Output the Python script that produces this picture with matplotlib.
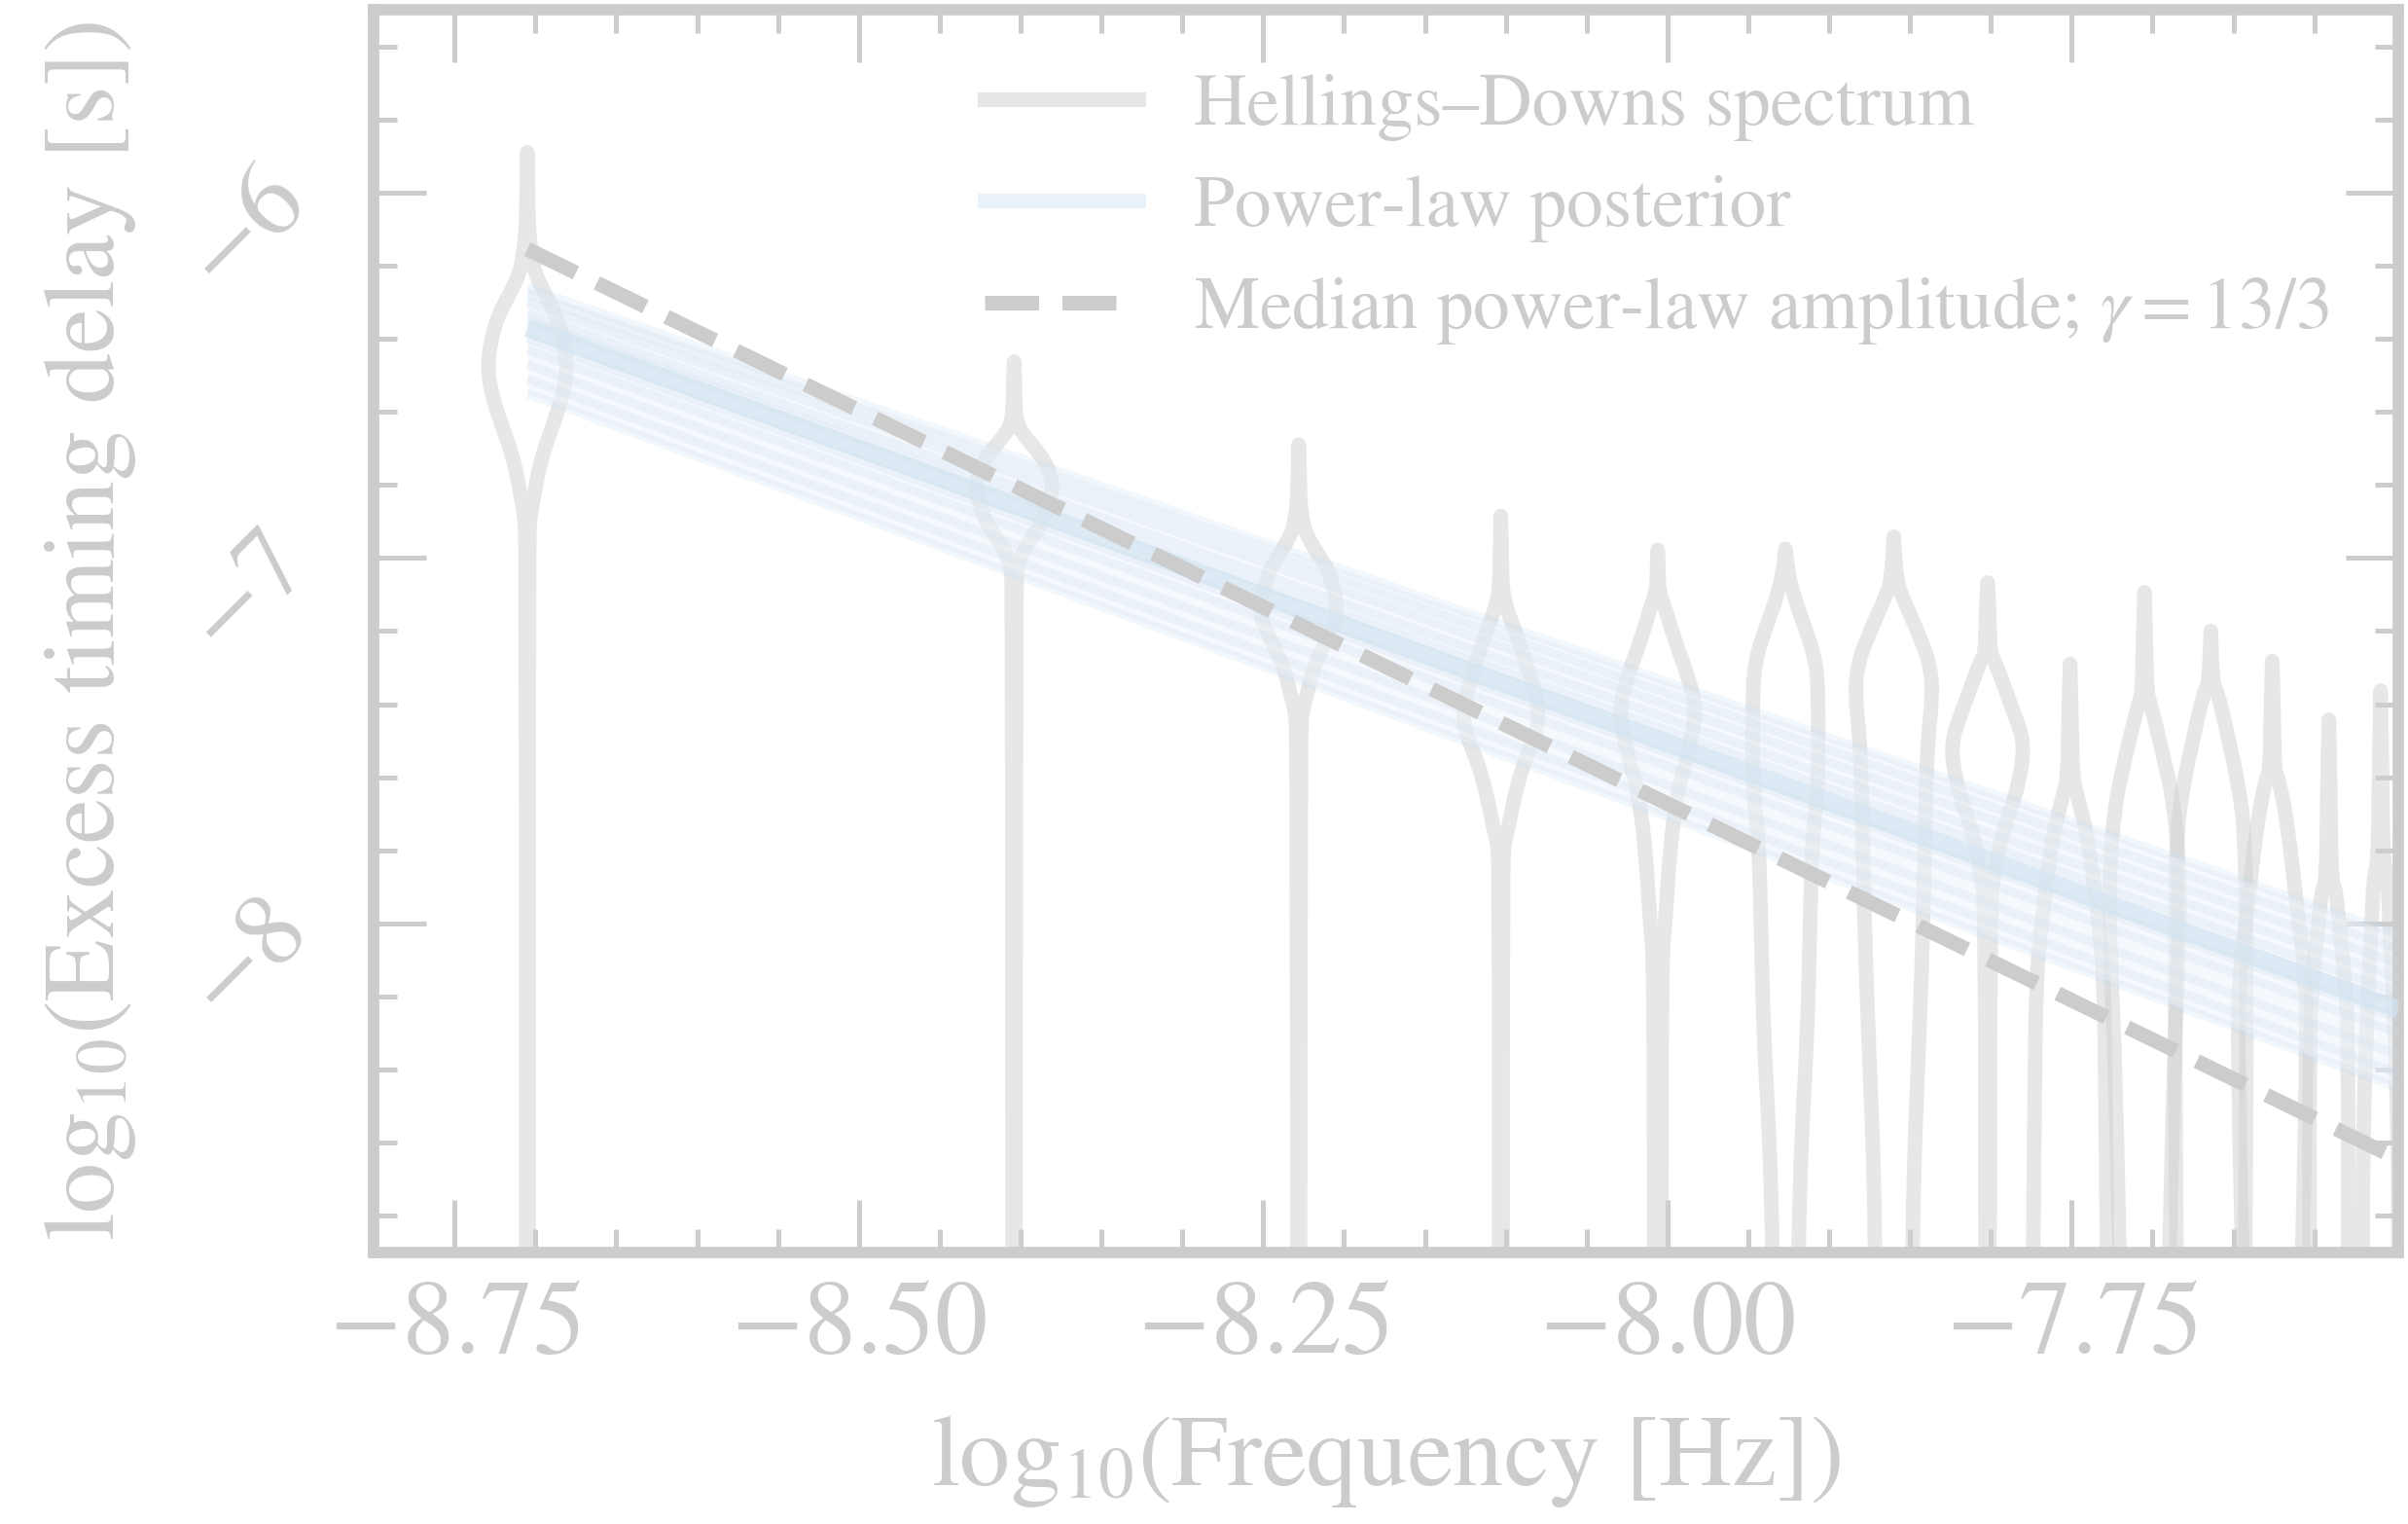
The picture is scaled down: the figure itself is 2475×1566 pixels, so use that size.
import numpy as np
import matplotlib
matplotlib.use("Agg")
import matplotlib.pyplot as plt
from matplotlib.lines import Line2D
from matplotlib.path import Path
from matplotlib.patches import PathPatch
from matplotlib.ticker import MultipleLocator, FormatStrFormatter

# ---------------- data ----------------
# log10 frequency of each Hellings-Downs free-spectrum bin
freq_log = [-8.705, -8.404, -8.228, -8.103, -8.006, -7.927, -7.860,
            -7.802, -7.751, -7.705, -7.664, -7.626, -7.591, -7.559]

# violin profiles: (log10 delay, half width in log10 frequency)
v1 = [(-5.89, 0), (-5.95, 0.0004), (-6.045, 0.0005), (-6.10, 0.001), (-6.147, 0.002),
      (-6.19, 0.0035), (-6.218, 0.0046), (-6.27, 0.010), (-6.331, 0.0175), (-6.40, 0.0225),
      (-6.484, 0.0247), (-6.55, 0.022), (-6.616, 0.0175), (-6.698, 0.0108), (-6.76, 0.007),
      (-6.82, 0.0046), (-6.88, 0.0018), (-6.963, 0.0008), (-9.0, 0.0008)]
v2 = [(-6.463, 0), (-6.52, 0.0005), (-6.60, 0.0008), (-6.63, 0.002), (-6.657, 0.0046),
      (-6.70, 0.013), (-6.739, 0.0196), (-6.796, 0.0242), (-6.84, 0.022), (-6.882, 0.0196),
      (-6.943, 0.0116), (-6.984, 0.0048), (-7.03, 0.002), (-7.065, 0.0012), (-9.0, 0.0008)]
v3 = [(-6.69, 0), (-6.76, 0.0005), (-6.842, 0.0008), (-6.90, 0.0025), (-6.935, 0.0046),
      (-6.99, 0.012), (-7.043, 0.0196), (-7.144, 0.0245), (-7.20, 0.020), (-7.245, 0.0148),
      (-7.31, 0.0083), (-7.384, 0.0046), (-7.42, 0.002), (-7.50, 0.0012), (-9.0, 0.0008)]
v4 = [(-6.885, 0), (-6.98, 0.0005), (-7.075, 0.0008), (-7.12, 0.0025), (-7.152, 0.0046),
      (-7.20, 0.009), (-7.261, 0.0134), (-7.35, 0.020), (-7.431, 0.0242), (-7.50, 0.020),
      (-7.571, 0.0134), (-7.66, 0.008), (-7.741, 0.0046), (-7.78, 0.002), (-7.85, 0.0012),
      (-9.0, 0.001)]
v5 = [(-6.978, 0), (-7.04, 0.0005), (-7.09, 0.0008), (-7.137, 0.0046), (-7.229, 0.0108),
      (-7.323, 0.0188), (-7.416, 0.0240), (-7.539, 0.0188), (-7.64, 0.0120), (-7.80, 0.0075),
      (-8.005, 0.0046), (-8.10, 0.0024), (-9.0, 0.0022)]
v6 = [(-6.975, 0), (-7.037, 0.0015), (-7.093, 0.0045), (-7.16, 0.0096), (-7.285, 0.0195),
      (-7.42, 0.0203), (-7.63, 0.0203), (-7.764, 0.0165), (-8.036, 0.015), (-8.31, 0.0135),
      (-8.584, 0.0099), (-8.856, 0.0082), (-9.0, 0.0078)]
v7 = [(-6.942, 0), (-7.054, 0.0015), (-7.10, 0.0045), (-7.188, 0.0135), (-7.287, 0.0224),
      (-7.38, 0.024), (-7.49, 0.021), (-7.69, 0.0195), (-8.036, 0.018), (-8.38, 0.015),
      (-8.72, 0.012), (-9.0, 0.0115)]
v8 = [(-7.067, 0), (-7.15, 0.001), (-7.262, 0.0015), (-7.28, 0.0045), (-7.41, 0.015),
      (-7.506, 0.023), (-7.61, 0.0196), (-7.678, 0.015), (-7.746, 0.0096), (-7.853, 0.0045),
      (-7.95, 0.0015), (-9.0, 0.0012)]
v9 = [(-7.29, 0), (-7.45, 0.001), (-7.60, 0.0015), (-7.651, 0.0045), (-7.746, 0.010),
      (-7.88, 0.0145), (-8.013, 0.018), (-8.15, 0.021), (-8.5, 0.022), (-9.0, 0.023)]
v10 = [(-7.094, 0), (-7.25, 0.001), (-7.37, 0.0015), (-7.41, 0.0045), (-7.544, 0.0118),
       (-7.678, 0.0185), (-7.88, 0.022), (-8.1, 0.021), (-8.4, 0.018), (-9.0, 0.015)]
v11 = [(-7.20, 0), (-7.343, 0.0012), (-7.37, 0.0045), (-7.477, 0.010), (-7.61, 0.0167),
       (-7.746, 0.021), (-8.013, 0.022), (-8.5, 0.022), (-9.0, 0.021)]
v12 = [(-7.282, 0), (-7.45, 0.001), (-7.584, 0.0015), (-7.61, 0.0045), (-7.746, 0.010),
       (-7.947, 0.015), (-8.15, 0.021), (-8.45, 0.021), (-9.0, 0.018)]
v13 = [(-7.443, 0), (-7.65, 0.001), (-7.88, 0.0015), (-7.91, 0.0045), (-8.013, 0.0067),
       (-8.15, 0.010), (-8.31, 0.012), (-9.0, 0.012)]
v14 = [(-7.363, 0), (-7.6, 0.001), (-7.827, 0.0015), (-7.88, 0.0045), (-8.013, 0.0056),
       (-8.2, 0.008), (-8.6, 0.011), (-9.0, 0.011)]
violin_profiles = [v1, v2, v3, v4, v5, v6, v7, v8, v9, v10, v11, v12, v13, v14]

# power-law posterior draws: x range and y at both ends
post_x = [-8.705, -7.548]
post_y_left = [-6.26, -6.28, -6.30, -6.33, -6.35, -6.40, -6.43, -6.47, -6.51, -6.55]
post_y_right = [-8.03, -8.07, -8.11, -8.15, -8.19, -8.26, -8.30, -8.36, -8.41, -8.45]
post_central = [-6.37, -8.235]

# median power law, gamma = 13/3
median_x = [-8.705, -7.548]
median_y = [-6.155, -8.645]

labels = ["Hellings\u2013Downs spectrum", "Power-law posterior",
          r"Median power-law amplitude; $\gamma = 13/3$"]
xlabel = r"$\mathrm{log}_{10}$(Frequency [Hz])"
ylabel = r"$\mathrm{log}_{10}$(Excess timing delay [s])"

# ---------------- style ----------------
plt.rcParams.update({
    "font.family": ["STIXGeneral", "Liberation Serif", "DejaVu Serif"],
    "mathtext.fontset": "stix",
    "axes.unicode_minus": True,
})
GRAY = "#cccccc"
VIOLIN = "#d0d0d0"
BLUE = "#c6dcee"
BLUE_THICK = "#d3e4f1"


def smooth_side(points, start_code_move):
    """Quadratic-Bezier outline through the midpoints of the read points."""
    verts, codes = [], []
    verts.append(points[0]); codes.append(Path.MOVETO if start_code_move else Path.LINETO)
    p = np.asarray(points, dtype=float)
    verts.append(tuple((p[0] + p[1]) / 2)); codes.append(Path.LINETO)
    for i in range(1, len(p) - 1):
        verts.append(tuple(p[i])); codes.append(Path.CURVE3)
        verts.append(tuple((p[i] + p[i + 1]) / 2)); codes.append(Path.CURVE3)
    verts.append(tuple(p[-1])); codes.append(Path.LINETO)
    return verts, codes


fig = plt.figure(figsize=(8.25, 5.22), dpi=300)
ax = fig.add_axes([0.1552, 0.1782, 0.8408, 0.8154])

for prof, xc in zip(violin_profiles, freq_log):
    ys = [p[0] for p in prof]
    hw = [p[1] for p in prof]
    left_up = [(xc - w, y) for y, w in zip(ys, hw)][::-1]      # bottom -> top
    right_down = [(xc + w, y) for y, w in zip(ys, hw)]          # top -> bottom
    va, ca = smooth_side(left_up, True)
    vb, cb = smooth_side(right_down, False)
    path = Path(va + vb, ca + cb)
    ax.add_patch(PathPatch(path, facecolor="none", edgecolor=VIOLIN, alpha=0.5,
                           linewidth=3.6, joinstyle="round", capstyle="round", zorder=2))

ax.fill_between(post_x, [post_y_left[0], post_y_right[0]], [post_y_left[-1], post_y_right[-1]],
                color="#eef4fa", alpha=0.55, lw=0, zorder=2.5)
for yl, yr in zip(post_y_left, post_y_right):
    ax.plot(post_x, [yl, yr], color=BLUE, lw=2.2, alpha=0.22, solid_capstyle="butt", zorder=3)
ax.plot(post_x, post_central, color=BLUE_THICK, lw=4.5, alpha=0.7, solid_capstyle="butt", zorder=3)

ax.plot(median_x, median_y, color=GRAY, lw=3.6, ls="--", zorder=4)

ax.set_xlim(-8.80, -7.548)
ax.set_ylim(-8.9, -5.5)
ax.xaxis.set_major_locator(MultipleLocator(0.25))
ax.xaxis.set_minor_locator(MultipleLocator(0.05))
ax.yaxis.set_major_locator(MultipleLocator(1.0))
ax.yaxis.set_minor_locator(MultipleLocator(0.2))
ax.xaxis.set_major_formatter(FormatStrFormatter(r"$%.2f$"))
ax.yaxis.set_major_formatter(FormatStrFormatter(r"$%d$"))

for s in ax.spines.values():
    s.set_color(GRAY)
    s.set_linewidth(2.8)
ax.tick_params(which="both", direction="in", top=True, right=True, color=GRAY,
               labelcolor=GRAY, width=1.2)
ax.tick_params(which="major", length=13, labelsize=26)
ax.tick_params(which="minor", length=5.8)
ax.tick_params(axis="x", which="major", pad=7)
ax.tick_params(axis="y", which="major", pad=12, labelrotation=45)

ax.set_xlabel(xlabel, fontsize=25, color=GRAY, labelpad=9)
ax.set_ylabel(ylabel, fontsize=25, color=GRAY, labelpad=8)

handles = [Line2D([], [], color="#e6e6e6", lw=3.6),
           Line2D([], [], color="#eaf2f9", lw=3.6),
           Line2D([], [], color=GRAY, lw=3.6, ls="--")]
ax.legend(handles, labels, loc="upper right", bbox_to_anchor=(0.9954, 0.997),
          frameon=False, fontsize=18.1, labelcolor=GRAY, handlelength=2.1,
          handletextpad=0.75, labelspacing=0.45, borderaxespad=0.42)

fig.savefig("out.png", dpi=300)
